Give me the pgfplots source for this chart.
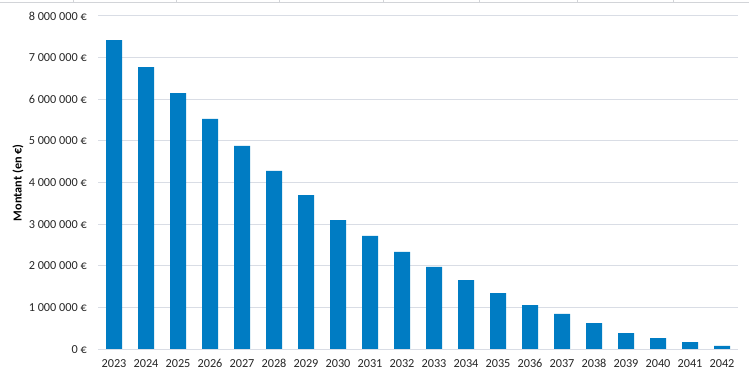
\documentclass[border=0pt]{standalone}
\usepackage{fontspec}
\setmainfont{Carlito}[Numbers=Lining]
\usepackage{pgfplots}
\pgfplotsset{compat=1.18}
\definecolor{barblue}{RGB}{0,124,195}
\definecolor{gridc}{RGB}{217,221,229}
\definecolor{topc}{RGB}{210,212,216}
\begin{document}
\begin{tikzpicture}[x=1bp,y=1bp]
\path[use as bounding box] (0,0) rectangle (749,376);
\draw[topc, line width=1bp] (0,373.7) -- (749,373.7);
\foreach \xx in {73,176,279,383,479,577,673} {\draw[topc, line width=1bp] (\xx,373.7) -- (\xx,376);}
\begin{axis}[
  at={(98bp,26.7bp)}, anchor=south west,
  scale only axis, width=640bp, height=333.3bp,
  xmin=-0.5, xmax=19.5, ymin=0, ymax=8000000,
  axis line style={draw=none},
  axis x line*=bottom,
  ybar, bar width=16bp,
  xtick={0,...,19},
  xticklabels={2023,2024,2025,2026,2027,2028,2029,2030,2031,2032,2033,2034,2035,2036,2037,2038,2039,2040,2041,2042},
  ytick={0,1000000,2000000,3000000,4000000,5000000,6000000,7000000,8000000},
  yticklabels={0 €,1 000 000 €,2 000 000 €,3 000 000 €,4 000 000 €,5 000 000 €,6 000 000 €,7 000 000 €,8 000 000 €},
  scaled y ticks=false,
  major tick length=0pt,
  tick style={draw=none},
  ymajorgrids, grid style={gridc, line width=1bp},
  every tick label/.append style={font=\fontsize{12.3}{14}\selectfont, text=black!85},
  yticklabel style={anchor=base east, inner sep=0pt, xshift=-11bp, yshift=-4bp},
  xticklabel style={anchor=base, inner sep=0pt, yshift=-17.7bp},
  ylabel={\textbf{Montant (en €)}},
  every axis y label/.style={at={(axis description cs:-0.125,0.5)}, rotate=90, anchor=center, font=\fontsize{12.3}{14}\selectfont},
  clip=false,
]
\addplot[fill=barblue, draw=none] coordinates {
(0,7420000) (1,6770000) (2,6150000) (3,5530000) (4,4880000) (5,4280000)
(6,3700000) (7,3100000) (8,2720000) (9,2340000) (10,1980000) (11,1660000)
(12,1350000) (13,1060000) (14,850000) (15,630000) (16,390000) (17,270000)
(18,170000) (19,80000)};
\draw[gridc, line width=1bp] (axis cs:-0.5,0) -- (axis cs:19.5,0);
\end{axis}
\end{tikzpicture}
\end{document}
